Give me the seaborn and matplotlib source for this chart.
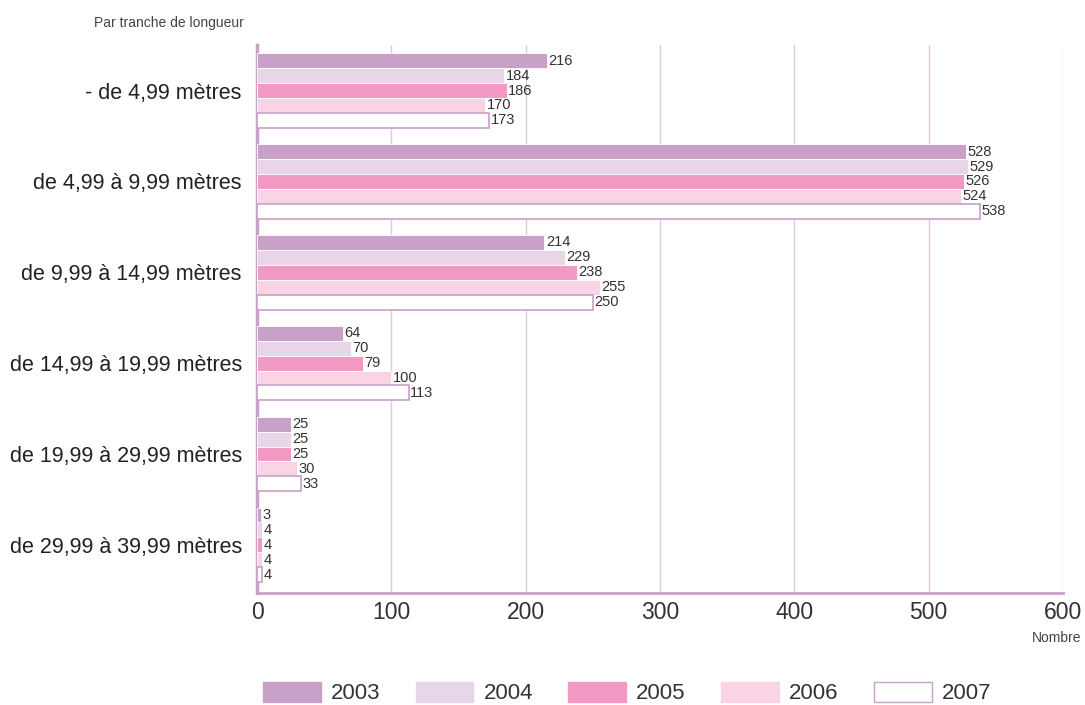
import numpy as np
import pandas as pd
import matplotlib.pyplot as plt
import seaborn as sns
from matplotlib.patches import Patch

# Nombre de navires par tranche de longueur
tranches = ['- de 4,99 mètres', 'de 4,99 à 9,99 mètres', 'de 9,99 à 14,99 mètres',
            'de 14,99 à 19,99 mètres', 'de 19,99 à 29,99 mètres', 'de 29,99 à 39,99 mètres']
annees = ['2003', '2004', '2005', '2006', '2007']
v2003 = [216, 528, 214, 64, 25, 3]
v2004 = [184, 529, 229, 70, 25, 4]
v2005 = [186, 526, 238, 79, 25, 4]
v2006 = [170, 524, 255, 100, 30, 4]
v2007 = [173, 538, 250, 113, 33, 4]

couleurs = ['#C8A0C8', '#E8D6E8', '#F39AC4', '#FAD4E5', '#FFFFFF']
violet = '#C8A0C8'

df = pd.DataFrame({
    'Tranche': tranches * 5,
    'Année': sum([[a] * 6 for a in annees], []),
    'Nombre': v2003 + v2004 + v2005 + v2006 + v2007,
})

sns.set_style('white')
plt.rcParams['font.family'] = ['Liberation Sans', 'DejaVu Sans']

fig = plt.figure(figsize=(10.85, 7.05), dpi=100)
ax = fig.add_axes([0.2369, 0.1589, 0.7428, 0.7771])

sns.barplot(data=df, y='Tranche', x='Nombre', hue='Année', orient='h',
            palette=couleurs, saturation=1, width=0.82, ax=ax, legend=False,
            zorder=3)

for i, cont in enumerate(ax.containers):
    for p in cont.patches:
        p.set_edgecolor(violet if i == 4 else 'white')
        p.set_linewidth(1.2 if i == 4 else 0.6)
    ax.bar_label(cont, padding=1, fontsize=10.5, color='#333333')

ax.set_xlim(0, 600)
ax.set_ylim(5.53, -0.5)
ax.set_xticks(range(0, 601, 100))
ax.xaxis.grid(True, color='#E0C8E0', linewidth=1, zorder=0)
ax.yaxis.grid(False)
ax.set_xlabel('')
ax.set_ylabel('')
ax.tick_params(axis='x', labelsize=16.5, colors='#333333', length=0, pad=6)
ax.tick_params(axis='y', labelsize=15.5, colors='#222222', length=0, pad=11)

for s in ['top', 'right']:
    ax.spines[s].set_visible(False)
ax.spines['left'].set_color(violet)
ax.spines['left'].set_linewidth(2.5)
ax.spines['bottom'].set_color(violet)
ax.spines['bottom'].set_linewidth(2)

fig.text(0.2245, 0.968, 'Par tranche de longueur', ha='right', va='center',
         fontsize=10, color='#444444')
fig.text(0.997, 0.095, 'Nombre', ha='right', va='center', fontsize=10,
         color='#444444')

poignees = [Patch(facecolor=c, edgecolor=(violet if i == 4 else c), linewidth=1)
            for i, c in enumerate(couleurs)]
fig.legend(poignees, annees, loc='center', bbox_to_anchor=(0.578, 0.017),
           ncol=5, frameon=False, fontsize=16, handlelength=2.6, handleheight=1.0,
           columnspacing=1.6, handletextpad=0.45, labelcolor='#333333')

fig.savefig('out.png', dpi=100)
